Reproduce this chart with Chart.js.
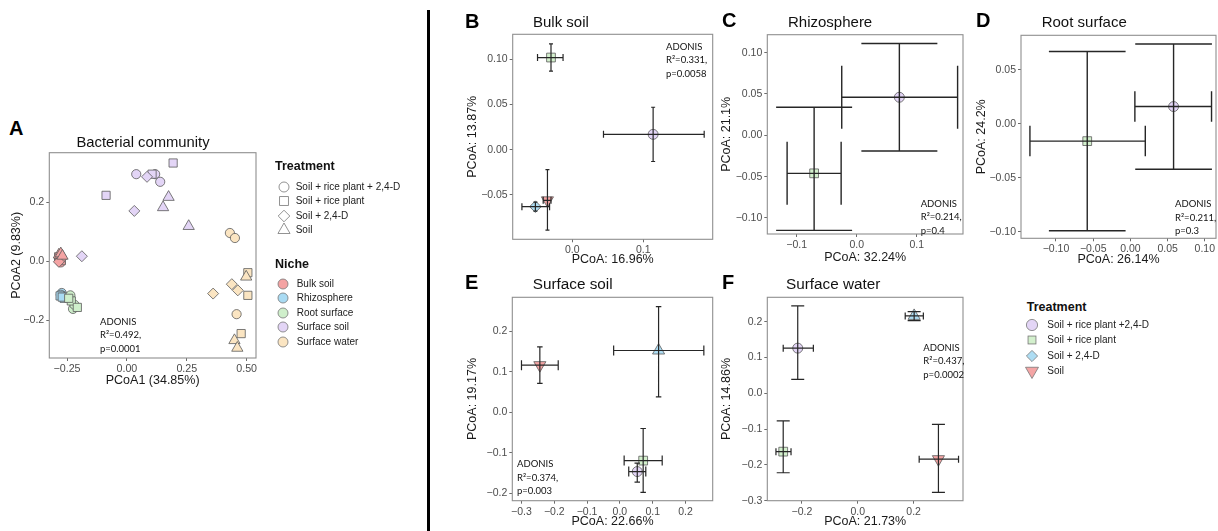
<!DOCTYPE html>
<html>
<head>
<meta charset="utf-8">
<title>PCoA - bacterial community</title>
<script src="https://cdn.jsdelivr.net/npm/chart.js@4.4.1/dist/chart.umd.min.js"></script>
<style>
  html, body { margin: 0; padding: 0; background: #fff; overflow: hidden; }
  body { width: 1218px; height: 531px; position: relative; font-family: "Liberation Sans", Arial, sans-serif; color: #111; }
  .t { position: absolute; white-space: nowrap; }
  .box { position: absolute; }
  .letter { font-weight: bold; font-size: 20px; line-height: 24px; color: #000; }
  .ptitle { color: #111; }
  .adonis { font-family: Lato, "Open Sans", sans-serif; font-size: 9.5px; line-height: 13.5px; color: #111; }
  .leg-title { font-weight: bold; font-size: 12.5px; line-height: 15px; color: #111; }
  .leg-item { font-size: 10px; line-height: 12px; color: #222; }
  #sep { position: absolute; left: 427px; top: 10px; width: 3px; height: 521px; background: #000; }
</style>
</head>
<body>
<div id="sep"></div>
<script>
// --- DATA ---
const treatments = ['Soil + rice plant + 2,4-D', 'Soil + rice plant', 'Soil + 2,4-D', 'Soil'];
const treatmentsLegend2 = ['Soil + rice plant +2,4-D', 'Soil + rice plant', 'Soil + 2,4-D', 'Soil'];
const niches = ['Bulk soil', 'Rhizosphere', 'Root surface', 'Surface soil', 'Surface water'];

// panel A, one value per sample; treatment index 0..3
const bulkX = [-0.283, -0.276, -0.279, -0.281, -0.274, -0.285, -0.278, -0.272, -0.284, -0.284, -0.276, -0.269];
const bulkY = [0.003, -0.004, 0.012, 0.008, 0.002, 0.015, 0.006, 0.010, -0.002, 0.022, 0.026, 0.018];
const bulkTrt = [0, 0, 0, 1, 1, 1, 2, 2, 2, 3, 3, 3];

const rhizoX = [-0.272, -0.266, -0.276, -0.279, -0.262, -0.270];
const rhizoY = [-0.108, -0.118, -0.114, -0.118, -0.126, -0.122];
const rhizoTrt = [0, 0, 0, 1, 1, 1];

const rootX = [-0.236, -0.225, -0.219, -0.232, -0.207, -0.243];
const rootY = [-0.116, -0.162, -0.148, -0.135, -0.157, -0.126];
const rootTrt = [0, 0, 0, 1, 1, 1];

const surfSoilX = [0.039, 0.118, 0.139, 0.105, 0.193, -0.087, 0.084, 0.031, -0.188, 0.174, 0.151, 0.258];
const surfSoilY = [0.296, 0.296, 0.270, 0.296, 0.334, 0.224, 0.287, 0.171, 0.017, 0.218, 0.183, 0.119];
const surfSoilTrt = [0, 0, 0, 1, 1, 1, 2, 2, 2, 3, 3, 3];

const surfWaterX = [0.430, 0.451, 0.458, 0.505, 0.505, 0.477, 0.438, 0.463, 0.360, 0.498, 0.449, 0.461];
const surfWaterY = [0.096, 0.079, -0.180, -0.039, -0.116, -0.246, -0.078, -0.099, -0.110, -0.053, -0.269, -0.295];
const surfWaterTrt = [0, 0, 0, 1, 1, 1, 2, 2, 2, 3, 3, 3];

const ticksAX = [-0.25, 0, 0.25, 0.5];
const ticksAY = [-0.2, 0, 0.2];

// panels B-F, centroid and spread per treatment
const bTrt = [1, 0, 2, 3];
const bX = [-0.030, 0.114, -0.052, -0.035];
const bY = [0.102, 0.017, -0.063, -0.056];
const bXlo = [-0.049, 0.044, -0.071, -0.041];
const bXhi = [-0.013, 0.186, -0.032, -0.030];
const bYlo = [0.087, -0.013, -0.068, -0.089];
const bYhi = [0.117, 0.047, -0.058, -0.022];
const ticksBX = [0, 0.1];
const ticksBY = [-0.05, 0, 0.05, 0.10];

const cTrt = [0, 1];
const cX = [0.071, -0.071];
const cY = [0.046, -0.046];
const cXlo = [-0.025, -0.116];
const cXhi = [0.168, -0.026];
const cYlo = [-0.019, -0.115];
const cYhi = [0.111, 0.034];
const ticksCX = [-0.1, 0, 0.1];
const ticksCY = [-0.10, -0.05, 0, 0.05, 0.10];

const dTrt = [1, 0];
const dX = [-0.058, 0.058];
const dY = [-0.016, 0.016];
const dXlo = [-0.135, 0.006];
const dXhi = [0.020, 0.109];
const dYlo = [-0.099, -0.042];
const dYhi = [0.067, 0.074];
const ticksDX = [-0.10, -0.05, 0, 0.05, 0.10];
const ticksDY = [-0.10, -0.05, 0, 0.05];

const eTrt = [3, 2, 1, 0];
const eX = [-0.244, 0.118, 0.071, 0.053];
const eY = [0.116, 0.152, -0.119, -0.146];
const eXlo = [-0.300, -0.019, 0.013, 0.027];
const eXhi = [-0.188, 0.256, 0.129, 0.079];
const eYlo = [0.071, 0.038, -0.197, -0.172];
const eYhi = [0.161, 0.260, -0.040, -0.125];
const ticksEX = [-0.3, -0.2, -0.1, 0, 0.1, 0.2];
const ticksEY = [-0.2, -0.1, 0, 0.1, 0.2];

const fTrt = [0, 1, 2, 3];
const fX = [-0.215, -0.267, 0.202, 0.289];
const fY = [0.126, -0.163, 0.216, -0.184];
const fXlo = [-0.267, -0.293, 0.170, 0.220];
const fXhi = [-0.159, -0.239, 0.235, 0.361];
const fYlo = [0.039, -0.222, 0.203, -0.277];
const fYhi = [0.244, -0.077, 0.228, -0.087];
const ticksFX = [-0.2, 0, 0.2];
const ticksFY = [-0.3, -0.2, -0.1, 0, 0.1, 0.2];

const adonisR2 = ['0.492', '0.331', '0.214', '0.211', '0.374', '0.437'];
const adonisP = ['0.0001', '0.0058', '0.4', '0.3', '0.003', '0.0002'];

// --- STYLE ---
const FONT = '"Liberation Sans", Arial, sans-serif';
const nicheColors = ['#F4A3A3', '#A9DBF3', '#CFEFCB', '#E3D5F6', '#FBE5C2'];
const trtColors = ['#E3D5F6', '#D3F0CD', '#AEDDF3', '#F4A5A5'];
const shapes = ['circle', 'rect', 'rectRot', 'triangle'];
const radiiA = { circle: 4.6, rect: 5.8, rectRot: 5.5, triangle: 6.5 };
const radii = { circle: 5, rect: 6.2, rectRot: 5.8, triangle: 7 };
const PAD_T = 8, PAD_R = 14, TITLE_LH = 15;

function fmt(v, dec) {
    return (v < -1e-9 ? '\u2212' : '') + Math.abs(v).toFixed(dec);
}

// text placed by its left edge and vertical middle
function txt(str, x, y, cls, extra) {
    const d = document.createElement('div');
    d.className = 't ' + cls;
    d.textContent = str;
    if (extra) Object.assign(d.style, extra);
    document.body.appendChild(d);
    const lh = parseFloat(getComputedStyle(d).lineHeight);
    d.style.left = x + 'px';
    d.style.top = (y - lh / 2) + 'px';
    return d;
}

function adonis(i, x, y) {
    const lines = ['ADONIS', 'R\u00B2=' + adonisR2[i] + ',', 'p=' + adonisP[i]];
    lines.forEach((l, k) => txt(l, x, y + k * 13.5, 'adonis'));
}

// --- CHART ---
function drawPanel(p) {
    const left = Math.floor(p.yTitleX - TITLE_LH / 2);
    const top = Math.floor(p.frame[1] - PAD_T);
    const right = Math.ceil(p.frame[2] + PAD_R);
    const bottom = Math.ceil(p.xTitleY + TITLE_LH / 2);
    const box = document.createElement('div');
    box.className = 'box';
    box.style.left = left + 'px';
    box.style.top = top + 'px';
    const cv = document.createElement('canvas');
    cv.width = right - left;
    cv.height = bottom - top;
    box.appendChild(cv);
    document.body.appendChild(box);

    const axis = (range, ticks, dec, title, fit) => ({
        type: 'linear',
        min: range[0], max: range[1], bounds: 'data',
        afterBuildTicks: s => { s.ticks = ticks.map(v => ({ value: v })); },
        afterFit: fit,
        ticks: { callback: v => fmt(v, dec), color: '#4d4d4d', font: { family: FONT, size: p.tickSize || 10.5 }, padding: 2, autoSkip: false, maxRotation: 0 },
        grid: { drawOnChartArea: false, drawTicks: true, tickLength: 3, color: '#6b6b6b', lineWidth: 1 },
        border: { display: false },
        title: { display: true, text: title, color: '#1a1a1a', font: { family: FONT, size: 12.5, lineHeight: 1.2 }, padding: 0 }
    });

    const frame = {
        id: 'frame',
        beforeDatasetsDraw(chart) {
            const { ctx, chartArea: a } = chart;
            ctx.save();
            ctx.strokeStyle = '#8f8f8f';
            ctx.lineWidth = 1.1;
            ctx.strokeRect(a.left, a.top, a.right - a.left, a.bottom - a.top);
            ctx.restore();
        }
    };

    const errBars = {
        id: 'errBars',
        afterDatasetsDraw(chart) {
            const e = p.err;
            if (!e) return;
            const { ctx, scales: { x, y } } = chart;
            ctx.save();
            ctx.strokeStyle = '#262626';
            ctx.lineWidth = p.lw;
            ctx.beginPath();
            e.x.forEach((xv, i) => {
                const px = x.getPixelForValue(xv), py = y.getPixelForValue(e.y[i]);
                const x0 = x.getPixelForValue(e.xlo[i]), x1 = x.getPixelForValue(e.xhi[i]);
                const y0 = y.getPixelForValue(e.ylo[i]), y1 = y.getPixelForValue(e.yhi[i]);
                ctx.moveTo(x0, py); ctx.lineTo(x1, py);
                ctx.moveTo(px, y0); ctx.lineTo(px, y1);
                [x0, x1].forEach(c => { ctx.moveTo(c, py - p.capH / 2); ctx.lineTo(c, py + p.capH / 2); });
                [y0, y1].forEach(c => { ctx.moveTo(px - p.capW / 2, c); ctx.lineTo(px + p.capW / 2, c); });
            });
            ctx.stroke();
            ctx.restore();
        }
    };

    new Chart(cv, {
        type: 'scatter',
        data: { datasets: p.datasets },
        options: {
            responsive: false,
            animation: false,
            devicePixelRatio: 1,
            events: [],
            layout: { padding: { top: p.frame[1] - top, right: right - p.frame[2], left: 0, bottom: 0 } },
            plugins: { legend: { display: false }, tooltip: { enabled: false } },
            scales: {
                x: axis(p.xr, p.xTicks, p.xDec, p.xTitle, s => { s.height = bottom - p.frame[3]; }),
                y: axis(p.yr, p.yTicks, p.yDec, p.yTitle, s => { s.width = p.frame[0] - left; })
            }
        },
        plugins: [frame, errBars]
    });
}

function nicheDataset(xs, ys, trt, k) {
    return {
        data: xs.map((x, i) => ({ x, y: ys[i] })),
        pointStyle: trt.map(t => shapes[t]),
        pointRadius: trt.map(t => radiiA[shapes[t]]),
        pointBackgroundColor: nicheColors[k],
        pointBorderColor: '#5a5a5a',
        pointBorderWidth: 0.8,
        showLine: false,
        order: -k
    };
}

function meanDataset(xs, ys, trt, fix) {
    const st = trt.map(t => (fix && fix[t]) || shapes[t]);
    return [{
        data: xs.map((x, i) => ({ x, y: ys[i] })),
        pointStyle: st,
        pointRadius: st.map(s => radii[s]),
        pointRotation: trt.map((t, i) => (t === 3 && st[i] === 'triangle') ? 180 : 0),
        pointBackgroundColor: trt.map(t => trtColors[t]),
        pointBorderColor: '#5a5a5a',
        pointBorderWidth: 0.8,
        showLine: false
    }];
}

// --- PANEL A ---
drawPanel({
    frame: [49.3, 152.7, 256, 358], xr: [-0.324, 0.539], yr: [-0.329, 0.369],
    xTicks: ticksAX, yTicks: ticksAY, xDec: 2, yDec: 1, tickSize: 10.7,
    xTitle: 'PCoA1 (34.85%)', yTitle: 'PCoA2 (9.83%)', yTitleX: 16.7, xTitleY: 380,
    datasets: [
        nicheDataset(bulkX, bulkY, bulkTrt, 0),
        nicheDataset(rhizoX, rhizoY, rhizoTrt, 1),
        nicheDataset(rootX, rootY, rootTrt, 2),
        nicheDataset(surfSoilX, surfSoilY, surfSoilTrt, 3),
        nicheDataset(surfWaterX, surfWaterY, surfWaterTrt, 4)
    ]
});
txt('A', 9, 128, 'letter');
txt('Bacterial community', 143, 141.5, 'ptitle', { fontSize: '14.8px', lineHeight: '18px', transform: 'translateX(-50%)' });
adonis(0, 100, 321.7);

// --- PANELS B-F ---
const subPanels = [
    { L: 'B', title: 'Bulk soil', tSize: 15, lx: 465, ly: 21, tx: 533, ty: 22,
      frame: [512.7, 34.3, 712.7, 239.3], xr: [-0.084, 0.198], yr: [-0.0991, 0.1277],
      xTicks: ticksBX, yTicks: ticksBY, xDec: 1, yDec: 2, xTitle: 'PCoA: 16.96%', yTitle: 'PCoA: 13.87%',
      yTitleX: 472.5, xTitleY: 259, capW: 4, capH: 7, lw: 1.2,
      m: [bX, bY, bXlo, bXhi, bYlo, bYhi, bTrt], ad: [666, 46.7] },
    { L: 'C', title: 'Rhizosphere', tSize: 15, lx: 722, ly: 20, tx: 788, ty: 22,
      frame: [767.3, 34.7, 963, 234], xr: [-0.149, 0.177], yr: [-0.1194, 0.1217],
      xTicks: ticksCX, yTicks: ticksCY, xDec: 1, yDec: 2, xTitle: 'PCoA: 32.24%', yTitle: 'PCoA: 21.1%',
      yTitleX: 727, xTitleY: 257, capW: 76, capH: 63, lw: 1.4,
      m: [cX, cY, cXlo, cXhi, cYlo, cYhi, cTrt], ad: [920.7, 203.3] },
    { L: 'D', title: 'Root surface', tSize: 15, lx: 976, ly: 20, tx: 1041.7, ty: 22,
      frame: [1021, 35, 1216, 238.3], xr: [-0.147, 0.115], yr: [-0.106, 0.082],
      xTicks: ticksDX, yTicks: ticksDY, xDec: 2, yDec: 2, xTitle: 'PCoA: 26.14%', yTitle: 'PCoA: 24.2%',
      yTitleX: 982, xTitleY: 259, capW: 76.7, capH: 30.5, lw: 1.4,
      m: [dX, dY, dXlo, dXhi, dYlo, dYhi, dTrt], ad: [1175, 204] },
    { L: 'E', title: 'Surface soil', tSize: 15.3, lx: 465, ly: 282, tx: 532.7, ty: 284,
      frame: [512.3, 297.3, 712.7, 500.7], xr: [-0.328, 0.283], yr: [-0.2177, 0.283],
      xTicks: ticksEX, yTicks: ticksEY, xDec: 1, yDec: 1, xTitle: 'PCoA: 22.66%', yTitle: 'PCoA: 19.17%',
      yTitleX: 472.5, xTitleY: 521, capW: 5.5, capH: 10, lw: 1.2, fix: { 2: 'triangle' },
      m: [eX, eY, eXlo, eXhi, eYlo, eYhi, eTrt], ad: [517, 464] },
    { L: 'F', title: 'Surface water', tSize: 15.3, lx: 722, ly: 282, tx: 786, ty: 284,
      frame: [767.3, 297.3, 963, 500.7], xr: [-0.324, 0.377], yr: [-0.3, 0.268],
      xTicks: ticksFX, yTicks: ticksFY, xDec: 1, yDec: 1, xTitle: 'PCoA: 21.73%', yTitle: 'PCoA: 14.86%',
      yTitleX: 727, xTitleY: 521, capW: 13, capH: 7, lw: 1.2, fix: { 2: 'triangle' },
      m: [fX, fY, fXlo, fXhi, fYlo, fYhi, fTrt], ad: [923.3, 347.3] }
];

subPanels.forEach((p, i) => {
    const [x, y, xlo, xhi, ylo, yhi, trt] = p.m;
    p.err = { x, y, xlo, xhi, ylo, yhi };
    p.datasets = meanDataset(x, y, trt, p.fix);
    drawPanel(p);
    txt(p.L, p.lx, p.ly, 'letter');
    txt(p.title, p.tx, p.ty, 'ptitle', { fontSize: p.tSize + 'px', lineHeight: (p.tSize * 1.2) + 'px' });
    adonis(i + 1, p.ad[0], p.ad[1]);
});

// --- LEGENDS ---
function symbol(shape, r, fill, stroke, down, cx, cy) {
    const s = 16, c = s / 2;
    let body;
    if (shape === 'circle') body = `<circle cx="${c}" cy="${c}" r="${r}"/>`;
    else if (shape === 'rect') { const h = r * Math.SQRT1_2; body = `<rect x="${c - h}" y="${c - h}" width="${2 * h}" height="${2 * h}"/>`; }
    else if (shape === 'rectRot') body = `<polygon points="${c},${c - r} ${c + r},${c} ${c},${c + r} ${c - r},${c}"/>`;
    else {
        const k = down ? -1 : 1, dx = r * Math.sin(Math.PI / 3), dy = r / 2;
        body = `<polygon points="${c},${c - k * r} ${c + dx},${c + k * dy} ${c - dx},${c + k * dy}"/>`;
    }
    const d = document.createElement('div');
    d.className = 't';
    d.style.left = (cx - c) + 'px';
    d.style.top = (cy - c) + 'px';
    d.innerHTML = `<svg width="${s}" height="${s}" viewBox="0 0 ${s} ${s}"><g fill="${fill}" stroke="${stroke}" stroke-width="0.8">${body}</g></svg>`;
    document.body.appendChild(d);
}

// legend of panel A
txt('Treatment', 275, 166.7, 'leg-title');
[187, 201, 215.5, 230].forEach((yy, i) => {
    symbol(shapes[i], radii[shapes[i]], '#fff', '#777', false, 284, yy);
    txt(treatments[i], 295.7, yy, 'leg-item');
});
txt('Niche', 275, 264.3, 'leg-title');
[284, 298.3, 312.7, 327.3, 341.7].forEach((yy, i) => {
    symbol('circle', 5, nicheColors[i], '#777', false, 283, yy);
    txt(niches[i], 296.7, yy, 'leg-item');
});

// legend of panels B-F
txt('Treatment', 1026.7, 307.3, 'leg-title');
[324.5, 340, 355.5, 371].forEach((yy, i) => {
    symbol(shapes[i], i === 3 ? 7.5 : 5.6, trtColors[i], '#777', i === 3, 1032.3, yy);
    txt(treatmentsLegend2[i], 1047.3, yy, 'leg-item');
});
</script>
</body>
</html>
